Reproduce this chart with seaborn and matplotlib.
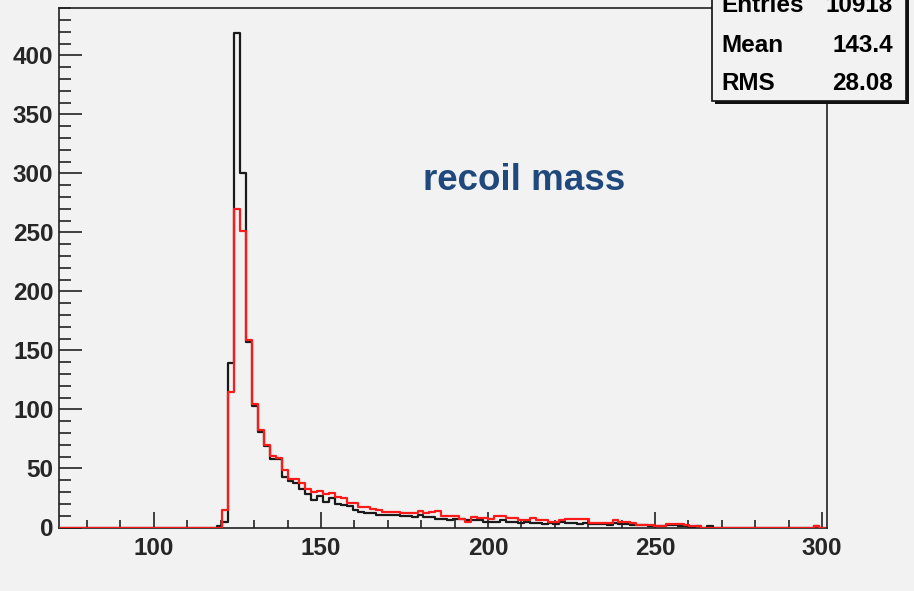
import numpy as np
import pandas as pd
import matplotlib
matplotlib.use("Agg")
import matplotlib.pyplot as plt
import seaborn as sns
from matplotlib.patches import Rectangle
from matplotlib.ticker import MultipleLocator

sns.set_style("ticks")
plt.rcParams['font.family'] = ['Liberation Sans', 'DejaVu Sans']

# ---- data ----
x_min, x_max, n_bins = 71.0, 301.0, 130
bin_edges = np.linspace(x_min, x_max, n_bins + 1)
bin_centers = 0.5 * (bin_edges[:-1] + bin_edges[1:])

black_counts = ([0] * 27 +
                [1, 5, 139, 419, 300, 157, 103, 81, 69, 58, 58] +
                [43, 39, 38, 33, 28, 23, 27, 22, 25, 20,
                 19, 18, 15, 13, 12, 12, 11, 11, 11, 11,
                 10, 10, 9, 11, 9, 9, 7, 7, 6, 7,
                 7, 6, 6, 6] +
                [5, 5, 5,
                 6, 5, 5, 4, 5, 4, 4, 3, 4, 3,
                 5, 4, 4, 3, 4, 3, 3, 3, 2, 4,
                 3, 3, 2, 2, 2, 1, 1, 1, 2, 2,
                 1, 1, 0, 1, 0, 1] +
                [0] * 17 + [1, 0])

red_counts = ([0] * 27 +
              [0, 15, 115, 270, 251, 159, 105, 83, 70, 61, 59] +
              [49, 41, 41, 38, 33, 30, 31, 28, 29, 26,
               25, 21, 21, 17, 17, 16, 15, 13, 13, 13,
               12, 12, 12, 14, 12, 13, 14, 10, 10, 10,
               7, 5, 9, 8] +
              [8, 7, 10,
               10, 8, 8, 6, 6, 8, 6, 6, 5, 5,
               6, 7, 7, 7, 7, 4, 4, 4, 4, 6,
               5, 5, 4, 2, 2, 2, 1, 1, 3, 3,
               3, 2, 1, 1, 0, 0] +
              [0] * 17 + [1, 0])

stats_labels = ["Entries", "Mean", "RMS"]
stats_values = ["10918", "143.4", "28.08"]
title_text = "recoil mass"

df = pd.DataFrame({"mass": bin_centers, "black": black_counts, "red": red_counts})

# ---- figure ----
W, H = 914, 591
bg = "#f2f2f2"
fig = plt.figure(figsize=(W / 100, H / 100), dpi=100)
fig.patch.set_facecolor(bg)
ax = fig.add_axes([59 / W, 1 - 527.5 / H, (826.7 - 59) / W, (527.5 - 7.7) / H])
ax.set_facecolor(bg)

edges_list = [float(e) for e in bin_edges]
sns.histplot(data=df, x="mass", weights="black", bins=edges_list, element="step",
             fill=False, color="#1a1a1a", linewidth=1.6, zorder=3, ax=ax)
sns.histplot(data=df, x="mass", weights="red", bins=edges_list, element="step",
             fill=False, color="#ff1a1a", linewidth=1.6, zorder=4, ax=ax)

ax.set_xlim(71.6, 301.4)
ax.set_ylim(0, 440.5)
ax.set_xlabel("")
ax.set_ylabel("")

ax.xaxis.set_major_locator(MultipleLocator(50))
ax.xaxis.set_minor_locator(MultipleLocator(10))
ax.yaxis.set_major_locator(MultipleLocator(50))
ax.yaxis.set_minor_locator(MultipleLocator(10))
ax.tick_params(axis="x", which="major", direction="in", length=11.5, width=1.2,
               color="#222222", pad=7, labelsize=17.5)
ax.tick_params(axis="x", which="minor", direction="in", length=5.8, width=1.2,
               color="#222222")
ax.tick_params(axis="y", which="major", direction="in", length=16.5, width=1.2,
               color="#222222", pad=4, labelsize=17.5)
ax.tick_params(axis="y", which="minor", direction="in", length=8.6, width=1.2,
               color="#222222")
for lab in ax.get_xticklabels() + ax.get_yticklabels():
    lab.set_fontweight("bold")
for sp in ax.spines.values():
    sp.set_visible(True)
    sp.set_color("#222222")
    sp.set_linewidth(1.2)

# title text
fig.text(524 / W, 1 - 181 / H, title_text, ha="center", va="center",
         fontsize=26.5, fontweight="bold", color="#1f497d")

# stats box with shadow
shadow = Rectangle((715 / W, 1 - 104 / H), (909 - 715) / W, 150 / H,
                   transform=fig.transFigure, facecolor="#111111",
                   edgecolor="none", zorder=10)
box = Rectangle((712 / W, 1 - 101 / H), (906 - 712) / W, 150 / H,
                transform=fig.transFigure, facecolor=bg, edgecolor="#111111",
                linewidth=1.2, zorder=11)
fig.add_artist(shadow)
fig.add_artist(box)
for k, (lab, val) in enumerate(zip(stats_labels, stats_values)):
    yy = 1 - (6 + 39 * k) / H
    fig.text(721 / W, yy, lab, ha="left", va="center", fontsize=17.5,
             fontweight="bold", color="black", zorder=12)
    fig.text(893 / W, yy, val, ha="right", va="center", fontsize=17.5,
             fontweight="bold", color="black", zorder=12)

fig.savefig("out.png", dpi=100, facecolor=bg)
